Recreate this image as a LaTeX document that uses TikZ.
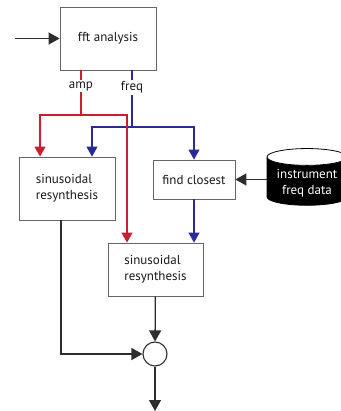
\documentclass[tikz,border=0pt]{standalone}
\usepackage{fontspec}
\setmainfont{PT Sans}
\usetikzlibrary{arrows.meta,positioning,shapes.geometric}
\definecolor{ampred}{RGB}{200,30,48}
\definecolor{freqblue}{RGB}{42,42,150}
\definecolor{linegray}{RGB}{45,45,45}

\begin{document}
\begin{tikzpicture}[x=1pt,y=-1pt,font=\fontsize{13}{16}\selectfont]
\tikzstyle{B}=[draw=black!60,line width=0.8pt,fill=white,align=left,text=black!90]
\tikzstyle{A}=[-{Triangle[width=12pt,length=11pt]},line width=1.3pt,draw=linegray]
\tikzstyle{R}=[-{Triangle[width=11pt,length=10pt]},line width=1.1pt,draw=ampred]
\tikzstyle{F}=[-{Triangle[width=11pt,length=10pt]},line width=1.1pt,draw=freqblue]
\tikzstyle{lbl}=[fill=white,inner sep=1.5pt,text=black!90]
\useasboundingbox (0,0) rectangle (340,411);
% blocks
\node[B,minimum width=96pt,minimum height=63pt] (fft) at (108,38.5) {fft analysis};
\node[B,minimum width=96pt,minimum height=63pt] (sin1) at (67,188.5) {sinusoidal\\resynthesis};
\node[B,minimum width=82pt,minimum height=39pt] (find) at (194,179.5) {find closest};
\node[B,minimum width=95pt,minimum height=53pt] (sin2) at (155.5,269.5) {sinusoidal\\resynthesis};
\node[cylinder,shape border rotate=90,aspect=0.25,draw=black,line width=0.8pt,
  cylinder uses custom fill,cylinder body fill=black,cylinder end fill=white,
  minimum width=80pt,minimum height=56pt,align=center,text=white] (data) at (307,183)
  {instrument\\freq data};
\node[circle,draw=linegray,line width=1.1pt,fill=white,minimum size=24pt,inner sep=0pt] (sum) at (155,354) {};
% free ends and branch points
\coordinate (in) at (15,38.5);
\coordinate (out) at (155,411);
\coordinate (ampsplit) at (81,115);
\coordinate (fsplit) at (132,127);
\coordinate (a1) at (40,0);
\coordinate (a2) at (127,0);
\coordinate (f1) at (92,0);
\coordinate (c1) at (61,0);
% frequency paths
\draw[F,-] (fft.south -| fsplit) -- node[lbl,pos=0.3]{freq} (fsplit);
\draw[F] (fsplit) -| (sin1.north -| f1);
\draw[F] (fsplit) -| (find.north);
\draw[F] (find) -- (sin2.north -| find);
% amplitude paths
\draw[R,-] (fft.south -| ampsplit) -- node[lbl,pos=0.35]{amp} (ampsplit);
\draw[R] (ampsplit) -| (sin1.north -| a1);
\draw[R] (ampsplit) -| (sin2.north -| a2);
% signal paths
\draw[A] (in) -- (fft);
\draw[A] (data.west |- find) -- (find);
\draw[A] (sin2) -- (sum);
\draw[A] (sin1.south -| c1) |- (sum);
\draw[A] (sum) -- (out);
\end{tikzpicture}
\end{document}
